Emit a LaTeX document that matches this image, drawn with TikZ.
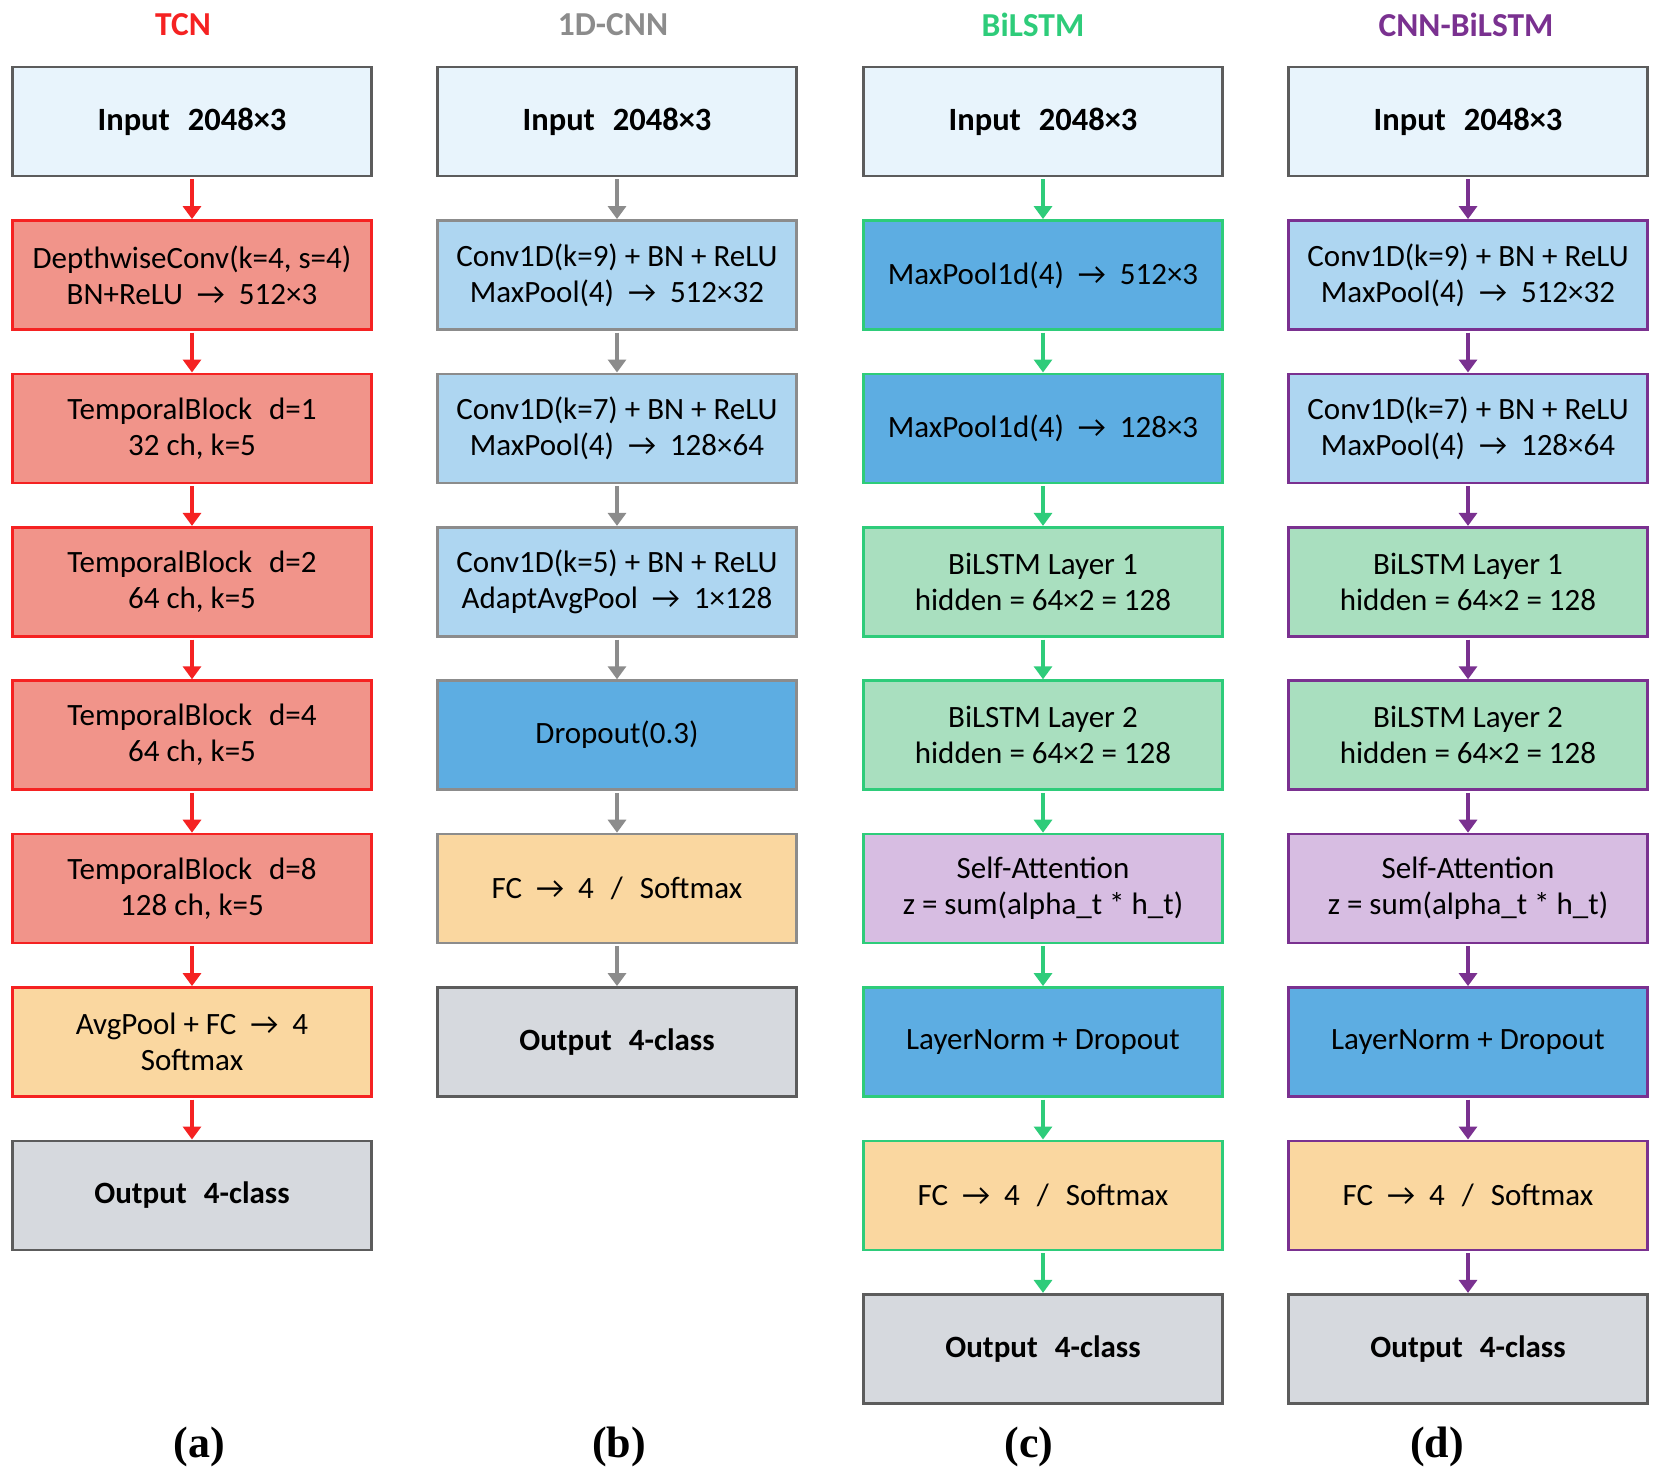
\documentclass[tikz,border=0pt]{standalone}
\usepackage{fontspec}
\usepackage{xcolor}
\usepackage{tikz}
\usetikzlibrary{arrows.meta}
\setmainfont{Carlito}
\newfontfamily\capfont{Liberation Serif}

\definecolor{tcnred}{HTML}{F52222}
\definecolor{cnngray}{HTML}{8C8C8C}
\definecolor{lstmgreen}{HTML}{2ECC7A}
\definecolor{mixpurple}{HTML}{7A3190}
\definecolor{inputfill}{HTML}{E8F4FC}
\definecolor{outputfill}{HTML}{D6D9DE}
\definecolor{edgegray}{HTML}{5C5C5C}
\definecolor{salmon}{HTML}{F1948A}
\definecolor{peach}{HTML}{FAD7A0}
\definecolor{paleblue}{HTML}{AED6F1}
\definecolor{midblue}{HTML}{5DADE2}
\definecolor{mint}{HTML}{A9DFBF}
\definecolor{lilac}{HTML}{D7BDE2}

\newcommand{\gives}{\hspace{0.45em}→\hspace{0.45em}}
\newcommand{\wide}{\hspace{0.55em}}

\tikzset{
  box/.style={draw, rectangle, minimum width=359pt, minimum height=109pt,
    line width=2.6pt, align=center, inner sep=0pt,
    font=\fontsize{31}{36}\selectfont},
  inbox/.style={box, fill=inputfill, draw=edgegray, font=\fontsize{32.5}{38}\selectfont\bfseries},
  outbox/.style={box, fill=outputfill, draw=edgegray, font=\fontsize{31}{36}\selectfont\bfseries},
  title/.style={font=\fontsize{33.5}{38}\selectfont\bfseries},
  subcap/.style={font=\fontsize{44}{50}\selectfont\capfont\bfseries},
  flow/.style={line width=4pt, shorten <=2pt, -{Triangle[width=18pt,length=13pt]}}
}

\begin{document}
\begin{tikzpicture}[x=1pt,y=-1pt]
\useasboundingbox (0,0) rectangle (1659,1481);

% titles
\node[title, text=tcnred] (ta) at (183,25) {TCN};
\node[title, text=cnngray] (tb) at (613,25) {1D-CNN};
\node[title, text=lstmgreen] (tc) at (1033,25) {BiLSTM};
\node[title, text=mixpurple] (td) at (1466,25) {CNN-BiLSTM};

% (a) TCN
\node[inbox] (a1) at (192,121.5) {Input\wide 2048×3};
\node[box, fill=salmon, draw=tcnred] (a2) at (192,274.9) {DepthwiseConv(k=4, s=4)\\BN+ReLU\gives 512×3};
\node[box, fill=salmon, draw=tcnred] (a3) at (192,428.3) {TemporalBlock\wide d=1\\32 ch, k=5};
\node[box, fill=salmon, draw=tcnred] (a4) at (192,581.7) {TemporalBlock\wide d=2\\64 ch, k=5};
\node[box, fill=salmon, draw=tcnred] (a5) at (192,735.1) {TemporalBlock\wide d=4\\64 ch, k=5};
\node[box, fill=salmon, draw=tcnred] (a6) at (192,888.5) {TemporalBlock\wide d=8\\128 ch, k=5};
\node[box, fill=peach, draw=tcnred] (a7) at (192,1041.9) {AvgPool + FC\gives 4\\Softmax};
\node[outbox] (a8) at (192,1195.3) {Output\wide 4-class};

% (b) 1D-CNN
\node[inbox] (b1) at (617,121.5) {Input\wide 2048×3};
\node[box, fill=paleblue, draw=cnngray] (b2) at (617,274.9) {Conv1D(k=9) + BN + ReLU\\MaxPool(4)\gives 512×32};
\node[box, fill=paleblue, draw=cnngray] (b3) at (617,428.3) {Conv1D(k=7) + BN + ReLU\\MaxPool(4)\gives 128×64};
\node[box, fill=paleblue, draw=cnngray] (b4) at (617,581.7) {Conv1D(k=5) + BN + ReLU\\AdaptAvgPool\gives 1×128};
\node[box, fill=midblue, draw=cnngray] (b5) at (617,735.1) {Dropout(0.3)};
\node[box, fill=peach, draw=cnngray] (b6) at (617,888.5) {FC\gives 4\wide /\wide Softmax};
\node[outbox] (b7) at (617,1041.9) {Output\wide 4-class};

% (c) BiLSTM
\node[inbox] (c1) at (1043,121.5) {Input\wide 2048×3};
\node[box, fill=midblue, draw=lstmgreen] (c2) at (1043,274.9) {MaxPool1d(4)\gives 512×3};
\node[box, fill=midblue, draw=lstmgreen] (c3) at (1043,428.3) {MaxPool1d(4)\gives 128×3};
\node[box, fill=mint, draw=lstmgreen] (c4) at (1043,581.7) {BiLSTM Layer 1\\hidden = 64×2 = 128};
\node[box, fill=mint, draw=lstmgreen] (c5) at (1043,735.1) {BiLSTM Layer 2\\hidden = 64×2 = 128};
\node[box, fill=lilac, draw=lstmgreen] (c6) at (1043,888.5) {Self-Attention\\z = sum(alpha\_t * h\_t)};
\node[box, fill=midblue, draw=lstmgreen] (c7) at (1043,1041.9) {LayerNorm + Dropout};
\node[box, fill=peach, draw=lstmgreen] (c8) at (1043,1195.3) {FC\gives 4\wide /\wide Softmax};
\node[outbox] (c9) at (1043,1348.7) {Output\wide 4-class};

% (d) CNN-BiLSTM
\node[inbox] (d1) at (1468,121.5) {Input\wide 2048×3};
\node[box, fill=paleblue, draw=mixpurple] (d2) at (1468,274.9) {Conv1D(k=9) + BN + ReLU\\MaxPool(4)\gives 512×32};
\node[box, fill=paleblue, draw=mixpurple] (d3) at (1468,428.3) {Conv1D(k=7) + BN + ReLU\\MaxPool(4)\gives 128×64};
\node[box, fill=mint, draw=mixpurple] (d4) at (1468,581.7) {BiLSTM Layer 1\\hidden = 64×2 = 128};
\node[box, fill=mint, draw=mixpurple] (d5) at (1468,735.1) {BiLSTM Layer 2\\hidden = 64×2 = 128};
\node[box, fill=lilac, draw=mixpurple] (d6) at (1468,888.5) {Self-Attention\\z = sum(alpha\_t * h\_t)};
\node[box, fill=midblue, draw=mixpurple] (d7) at (1468,1041.9) {LayerNorm + Dropout};
\node[box, fill=peach, draw=mixpurple] (d8) at (1468,1195.3) {FC\gives 4\wide /\wide Softmax};
\node[outbox] (d9) at (1468,1348.7) {Output\wide 4-class};

% arrows
\draw[flow, tcnred] (a1) -- (a2);
\draw[flow, tcnred] (a2) -- (a3);
\draw[flow, tcnred] (a3) -- (a4);
\draw[flow, tcnred] (a4) -- (a5);
\draw[flow, tcnred] (a5) -- (a6);
\draw[flow, tcnred] (a6) -- (a7);
\draw[flow, tcnred] (a7) -- (a8);

\draw[flow, cnngray] (b1) -- (b2);
\draw[flow, cnngray] (b2) -- (b3);
\draw[flow, cnngray] (b3) -- (b4);
\draw[flow, cnngray] (b4) -- (b5);
\draw[flow, cnngray] (b5) -- (b6);
\draw[flow, cnngray] (b6) -- (b7);

\draw[flow, lstmgreen] (c1) -- (c2);
\draw[flow, lstmgreen] (c2) -- (c3);
\draw[flow, lstmgreen] (c3) -- (c4);
\draw[flow, lstmgreen] (c4) -- (c5);
\draw[flow, lstmgreen] (c5) -- (c6);
\draw[flow, lstmgreen] (c6) -- (c7);
\draw[flow, lstmgreen] (c7) -- (c8);
\draw[flow, lstmgreen] (c8) -- (c9);

\draw[flow, mixpurple] (d1) -- (d2);
\draw[flow, mixpurple] (d2) -- (d3);
\draw[flow, mixpurple] (d3) -- (d4);
\draw[flow, mixpurple] (d4) -- (d5);
\draw[flow, mixpurple] (d5) -- (d6);
\draw[flow, mixpurple] (d6) -- (d7);
\draw[flow, mixpurple] (d7) -- (d8);
\draw[flow, mixpurple] (d8) -- (d9);

% sub-captions
\node[subcap] (capa) at (199,1447) {(a)};
\node[subcap] (capb) at (619,1447) {(b)};
\node[subcap] (capc) at (1029,1447) {(c)};
\node[subcap] (capd) at (1437,1447) {(d)};
\end{tikzpicture}
\end{document}
